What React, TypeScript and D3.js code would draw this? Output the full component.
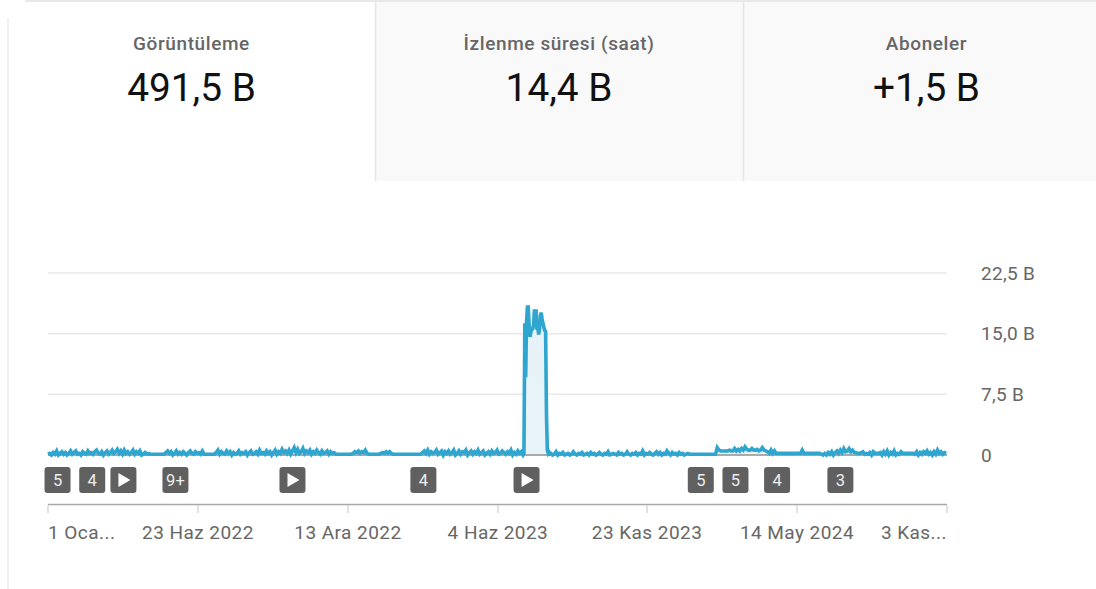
import React from "react";
import * as d3 from "d3";

const W = 1096;
const H = 589;

// summary tabs
const tabTitles = ["Görüntüleme", "İzlenme süresi (saat)", "Aboneler"];
const tabValues = ["491,5 B", "14,4 B", "+1,5 B"];

// views in thousands (two day steps outside the spike)
const viewsBefore = [
  .1, .2, 0, .3, .1, .5, 0, .2, .4, .1, .3, 0, .2, .5, .1, .3, .5, .1, .2, 0,
  .4, .2, .1, .5, .2, .3, .1, .4, .6, .2, .1, .4, 0, .3, .5, .1, .3, .6, .2, .4,
  .7, .2, .5, .1, .6, .2, .4, .1, .3, .6, .1, .4, .2, .5, 0, .1, .3, .1, .2, .1,
  .1, .1, .1, .1, .1, .1, .1, .1, .3, .5, .2, .4, 0, .2, .5, .1, .3, .1, .4, .2,
  0, .3, .5, .2, .1, .4, .2, .3, .1, .5, .1, .1, .1, .1, .1, .1, .1, .3, .6, .1,
  .4, .2, .1, .5, .2, .4, 0, .3, .1, .2, .5, .1, .3, .2, .4, 0, .3, .5, .1, .2,
  .4, .1, .6, .2, .3, .1, .5, .2, .4, 0, .3, .6, .1, .4, .2, .7, .3, .5, .2, .6,
  .1, .5, .9, .3, .7, .2, .4, .8, .2, .5, .3, .6, .1, .4, .2, .6, .3, .1, .5, .2,
  .3, .5, .1, .4, .2, .3, .1, .1, .1, .1, .1, .1, .1, .1, .1, .1, .2, .4, .3, .5,
  .2, .4, .3, .6, .2, .1, .1, .1, .1, .1, .1, .1, .2, .3, .2, .4, .2, .4, .2, .1,
  .1, .1, .1, .1, .1, .1, .1, .1, .1, .1, .1, .1, .1, .1, .1, .1, .3, .5, .2, .6,
  .1, .4, .2, .3, .6, .1, .3, .5, 0, .4, .2, .5, .1, .3, .6, 0, .2, .5, .1, .4,
  .3, .6, 0, .3, .5, .1, .4, .2, .6, .1, .3, .5, 0, .2, .4, .1, .5, .2, .3, .6,
  .1, .2, .5, .3, .1, .4, .2, .6, 0, .3, .1, .5, .2, .4, 0,
];
const viewsSpike = [
  .2, 16.3, 9.6, 16.5, 18.3, 18.3, 16, 14.6, 15.2, 15.5, 15.6, 16, 17.8, 17.8, 17.8, 15.5,
  15.7, 14.9, 15.5, 17.3, 17.6, 16.7, 16.3, 15.8, 15.4, 15.3, 5, .6, .2, .35, .15,
];
const viewsAfter = [
  .2, 0, .1, .4, 0, .2, .1, .3, 0, .1, .2, 0, .1, .4, .1, 0, .2, .1, .3, 0,
  .1, .2, 0, .3, .1, .2, 0, .1, .3, .1, 0, .2, .1, .4, 0, .1, .2, .1, 0, .3,
  .1, .2, 0, .1, .4, .1, 0, .2, .1, .3, 0, .2, .1, .5, 0, .2, .1, .3, .1, 0,
  .2, .4, .1, .3, 0, .2, .1, .5, .2, 0, .3, .1, .2, 0, .3, .1, .2, 0, .1, .2,
  .1, .1, .1, .1, .1, .1, .1, .1, .1, .1, .1, .1, .1, .1, .1, .1, .9, .6, .5, .5,
  .5, .5, .5, .6, .5, .5, .8, .5, .7, .5, .8, .6, 1, .7, .6, .6, .8, .6, .6, .7,
  .5, .6, .9, .6, .5, .4, .2, .6, .2, .5, .2, .2, .2, .2, .2, .2, .2, .2, .2, .2,
  .2, .2, .2, .2, .2, .6, .2, .2, .2, .2, .2, .2, .2, .2, .2, .2, .1, 0, .2, 0,
  .3, .1, .4, 0, .3, .5, .2, .6, .3, .8, .4, .5, .8, .4, .6, .3, .3, .2, .2, .3,
  .4, .1, .2, .1, .3, 0, .4, .2, .2, .2, .3, 0, .4, .1, .5, 0, .3, .1, .5, 0,
  .2, .1, .4, .2, .2, .2, .2, .2, .2, .2, .1, .4, 0, .3, .1, .4, .2, .5, .1, .3,
  0, .4, .1, .6, .2, .4, .1, .3, .2,
];

const yTicks = [0, 7.5, 15, 22.5];
const yTickLabels = ["0", "7,5 B", "15,0 B", "22,5 B"];
const xTickDates = ["2022-01-01", "2022-06-23", "2022-12-13", "2023-06-04", "2023-11-23", "2024-05-14", "2024-11-03"];
const xTickLabels = ["1 Oca...", "23 Haz 2022", "13 Ara 2022", "4 Haz 2023", "23 Kas 2023", "14 May 2024", "3 Kas..."];

// upload markers under the line, "play" is the triangle one
const markerDates = ["2022-01-12", "2022-02-21", "2022-03-29", "2022-05-28", "2022-10-10", "2023-03-10", "2023-07-07", "2024-01-24", "2024-03-04", "2024-04-21", "2024-07-03"];
const markerLabels = ["5", "4", "play", "9+", "play", "4", "play", "5", "5", "4", "3"];

const start = new Date(Date.UTC(2022, 0, 1));
const spikeStart = d3.utcDay.offset(start, 549);
const afterStart = d3.utcDay.offset(start, 580);

const series: { date: Date; value: number }[] = [
  ...viewsBefore.map((value, i) => ({ date: d3.utcDay.offset(start, i * 2), value })),
  ...viewsSpike.map((value, i) => ({ date: d3.utcDay.offset(spikeStart, i), value })),
  ...viewsAfter.map((value, i) => ({ date: d3.utcDay.offset(afterStart, i * 2), value })),
];

const parseDay = d3.utcParse("%Y-%m-%d");

const FONT = "Roboto, sans-serif";
const LINE = "#2ea6cf";
const TEXT = "#666666";

export default function App() {
  const x = d3
    .scaleUtc()
    .domain([parseDay(xTickDates[0])!, parseDay(xTickDates[6])!])
    .range([48, 947]);
  const y = d3.scaleLinear().domain([0, 22.5]).range([455, 273]);

  const line = d3
    .line<{ date: Date; value: number }>()
    .x((d) => x(d.date))
    .y((d) => y(d.value));
  const area = d3
    .area<{ date: Date; value: number }>()
    .x((d) => x(d.date))
    .y0(y(0))
    .y1((d) => y(d.value));

  return (
    <svg
      width={W}
      height={H}
      viewBox={`0 0 ${W} ${H}`}
      style={{ position: "fixed", left: 0, top: 0, background: "#fff", fontFamily: FONT }}
    >
      {/* tabs */}
      <rect x={375} y={2} width={721} height={179} fill="#f9f9f9" />
      <line x1={25} x2={1096} y1={1} y2={1} stroke="#e8e8e8" strokeWidth={2} />
      <line x1={8} x2={8} y1={18} y2={589} stroke="#ececec" strokeWidth={1.5} />
      <line x1={375.5} x2={375.5} y1={2} y2={181} stroke="#e6e6e6" strokeWidth={1.5} />
      <line x1={743.5} x2={743.5} y1={2} y2={181} stroke="#e6e6e6" strokeWidth={1.5} />
      {tabTitles.map((t, i) => {
        const cx = [191.5, 559, 926.5][i];
        return (
          <g key={t} textAnchor="middle">
            <text x={cx} y={50} fontSize={19} letterSpacing={0.6} fontWeight={500} fill={TEXT}>{t}</text>
            <text x={cx} y={101} fontSize={38.8} fill="#111">{tabValues[i]}</text>
          </g>
        );
      })}

      {/* grid */}
      {yTicks.map((t, i) => (
        <g key={t}>
          <line
            x1={48}
            x2={947}
            y1={y(t)}
            y2={y(t)}
            stroke={t === 0 ? "#aaaaaa" : "#e8e8e8"}
            strokeWidth={t === 0 ? 2 : 1.5}
          />
          <text x={981} y={y(t) + 6.5} fontSize={19} letterSpacing={0.3} fill={TEXT}>{yTickLabels[i]}</text>
        </g>
      ))}

      {/* series */}
      <path d={area(series) ?? ""} fill="#e7f3f9" />
      <line x1={48} x2={947} y1={y(0)} y2={y(0)} stroke="#aaaaaa" strokeWidth={2} />
      <path d={line(series) ?? ""} fill="none" stroke={LINE} strokeWidth={3.6} strokeLinejoin="miter" strokeMiterlimit={3} />

      {/* markers */}
      {markerDates.map((d, i) => {
        const cx = x(parseDay(d)!);
        const label = markerLabels[i];
        return (
          <g key={d}>
            <rect x={cx - 13} y={467} width={26} height={26} rx={3} fill="#606060" />
            {label === "play" ? (
              <path d={`M${cx - 5},${473} L${cx + 7},${480} L${cx - 5},${487} Z`} fill="#fff" />
            ) : (
              <text x={cx} y={486} textAnchor="middle" fontSize={16.5} fill="#eeeeee">{label}</text>
            )}
          </g>
        );
      })}

      {/* x axis */}
      <line x1={48} x2={947} y1={504.5} y2={504.5} stroke="#a8a8a8" strokeWidth={1.5} />
      {xTickDates.map((d, i) => {
        const tx = x(parseDay(d)!);
        const anchor = i === 0 ? "start" : i === xTickDates.length - 1 ? "end" : "middle";
        return (
          <g key={d}>
            <line x1={tx} x2={tx} y1={505} y2={513} stroke="#d8d8d8" strokeWidth={1.5} />
            <text x={tx} y={539} textAnchor={anchor} fontSize={19} letterSpacing={0.45} fill={TEXT}>{xTickLabels[i]}</text>
          </g>
        );
      })}
    </svg>
  );
}
